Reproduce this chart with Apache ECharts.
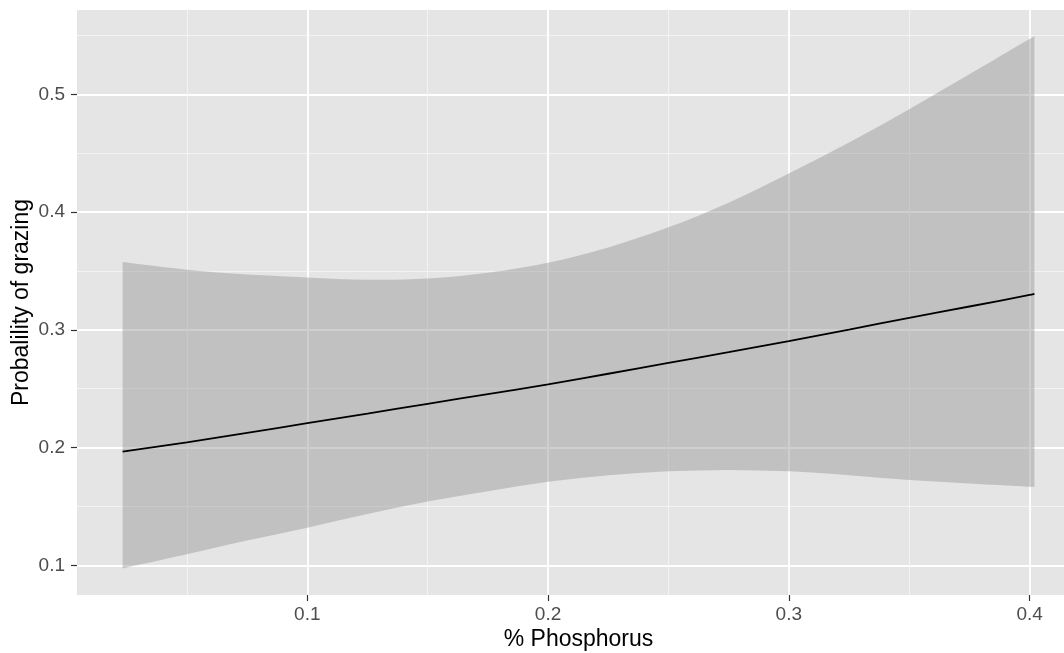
<!DOCTYPE html>
<html>
<head>
<meta charset="utf-8">
<script src="https://cdn.jsdelivr.net/npm/echarts@6/dist/echarts.min.js"></script>
<style>
  html, body { margin: 0; padding: 0; background: #ffffff; }
  #chart { width: 1064px; height: 653px; }
</style>
</head>
<body>
<div id="chart"></div>
<script>
// Fitted probability of grazing against % phosphorus, with its confidence band
const phosphorus = [0.0233, 0.05, 0.075, 0.1, 0.125, 0.15, 0.175, 0.2, 0.225, 0.25, 0.275, 0.3, 0.325, 0.35, 0.375, 0.4, 0.402];
const fitted     = [0.1966, 0.2045, 0.2125, 0.2207, 0.2289, 0.2372, 0.2454, 0.2537, 0.2627, 0.2719, 0.2810, 0.2904, 0.3002, 0.3102, 0.3198, 0.3296, 0.3305];
const lowerBound = [0.0974, 0.1094, 0.1210, 0.1320, 0.1435, 0.1542, 0.1630, 0.1710, 0.1765, 0.1798, 0.1810, 0.1798, 0.1765, 0.1725, 0.1695, 0.1667, 0.1665];
const upperBound = [0.3575, 0.3510, 0.3470, 0.3445, 0.3425, 0.3435, 0.3485, 0.3570, 0.3700, 0.3870, 0.4080, 0.4327, 0.4590, 0.4873, 0.5170, 0.5470, 0.5490];

const xMajorTicks = [0.1, 0.2, 0.3, 0.4];
const xMinorTicks = [0.05, 0.15, 0.25, 0.35];
const yMajorTicks = [0.1, 0.2, 0.3, 0.4, 0.5];
const yMinorTicks = [0.15, 0.25, 0.35, 0.45, 0.55];

const xTitle = '% Phosphorus';
const yTitle = 'Probalility of grazing';

const FONT = "'Liberation Sans', Arial, Helvetica, sans-serif";

// axis limits padded by 5% of the data range on each side
function padded(lo, hi) {
  const pad = (hi - lo) * 0.05;
  return [lo - pad, hi + pad];
}
const [xMin, xMax] = padded(Math.min(...phosphorus), Math.max(...phosphorus));
const [yMin, yMax] = padded(Math.min(...lowerBound), Math.max(...upperBound));

const pairs = (ys) => phosphorus.map((x, i) => [x, ys[i]]);

const majorLine = { show: true, lineStyle: { color: '#ffffff', width: 1.8 } };
const minorLine = { show: true, lineStyle: { color: '#f4f4f4', width: 0.9 } };

// Catmull-Rom curve through pixel points, as SVG cubic segments (no leading move)
function curveSegments(pts) {
  let d = '';
  const n = pts.length;
  for (let i = 0; i < n - 1; i++) {
    const p0 = pts[Math.max(i - 1, 0)];
    const p1 = pts[i];
    const p2 = pts[i + 1];
    const p3 = pts[Math.min(i + 2, n - 1)];
    const c1x = p1[0] + (p2[0] - p0[0]) / 6, c1y = p1[1] + (p2[1] - p0[1]) / 6;
    const c2x = p2[0] - (p3[0] - p1[0]) / 6, c2y = p2[1] - (p3[1] - p1[1]) / 6;
    d += ' C' + c1x + ' ' + c1y + ' ' + c2x + ' ' + c2y + ' ' + p2[0] + ' ' + p2[1];
  }
  return d;
}

// confidence band: upper edge left to right, then lower edge back
function renderBand(params, api) {
  const upper = phosphorus.map((x, i) => api.coord([x, upperBound[i]]));
  const lower = phosphorus.map((x, i) => api.coord([x, lowerBound[i]])).reverse();
  const d = 'M' + upper[0][0] + ' ' + upper[0][1] + curveSegments(upper) +
            ' L' + lower[0][0] + ' ' + lower[0][1] + curveSegments(lower) + ' Z';
  return {
    type: 'path',
    shape: { pathData: d },
    style: { fill: 'rgba(153,153,153,0.47)' },
    silent: true
  };
}

const chart = echarts.init(document.getElementById('chart'), null, { renderer: 'canvas' });

chart.setOption({
  animation: false,
  backgroundColor: '#ffffff',
  grid: {
    left: 77, top: 10, bottom: 58, right: -16,
    outerBoundsMode: 'none', containLabel: false,
    show: true, backgroundColor: '#e5e5e5', borderWidth: 0
  },
  xAxis: [
    {
      type: 'value', min: xMin, max: xMax,
      name: xTitle, nameLocation: 'middle', nameGap: 33, nameMoveOverlap: false,
      nameTextStyle: { fontFamily: FONT, fontSize: 23, color: '#000000' },
      axisLine: { show: false },
      axisTick: { show: true, length: 6, customValues: xMajorTicks,
                  lineStyle: { color: '#333333', width: 1.2 } },
      axisLabel: { show: true, customValues: xMajorTicks, margin: 10,
                   fontFamily: FONT, fontSize: 19, color: '#4d4d4d',
                   formatter: (v) => v.toFixed(1) },
      splitLine: majorLine
    },
    {
      type: 'value', min: xMin, max: xMax, position: 'bottom',
      axisLine: { show: false },
      axisTick: { show: false, customValues: xMinorTicks },
      axisLabel: { show: false, customValues: xMinorTicks },
      splitLine: minorLine
    }
  ],
  yAxis: [
    {
      type: 'value', min: yMin, max: yMax,
      name: yTitle, nameLocation: 'middle', nameGap: 44, nameRotate: 90,
      nameMoveOverlap: false,
      nameTextStyle: { fontFamily: FONT, fontSize: 23, color: '#000000' },
      axisLine: { show: false },
      axisTick: { show: true, length: 6, customValues: yMajorTicks,
                  lineStyle: { color: '#333333', width: 1.2 } },
      axisLabel: { show: true, customValues: yMajorTicks, margin: 12,
                   fontFamily: FONT, fontSize: 19, color: '#4d4d4d',
                   formatter: (v) => v.toFixed(1) },
      splitLine: majorLine
    },
    {
      type: 'value', min: yMin, max: yMax, position: 'left',
      axisLine: { show: false },
      axisTick: { show: false, customValues: yMinorTicks },
      axisLabel: { show: false, customValues: yMinorTicks },
      splitLine: minorLine
    }
  ],
  series: [
    {
      name: 'band',
      type: 'custom',
      renderItem: renderBand,
      data: [[phosphorus[0], lowerBound[0]]],
      encode: { x: 0, y: 1 },
      silent: true,
      z: 2
    },
    {
      name: 'fit',
      type: 'line',
      data: pairs(fitted),
      smooth: 0.3,
      showSymbol: false,
      lineStyle: { color: '#000000', width: 1.8 },
      silent: true,
      z: 3
    }
  ]
});
</script>
</body>
</html>
